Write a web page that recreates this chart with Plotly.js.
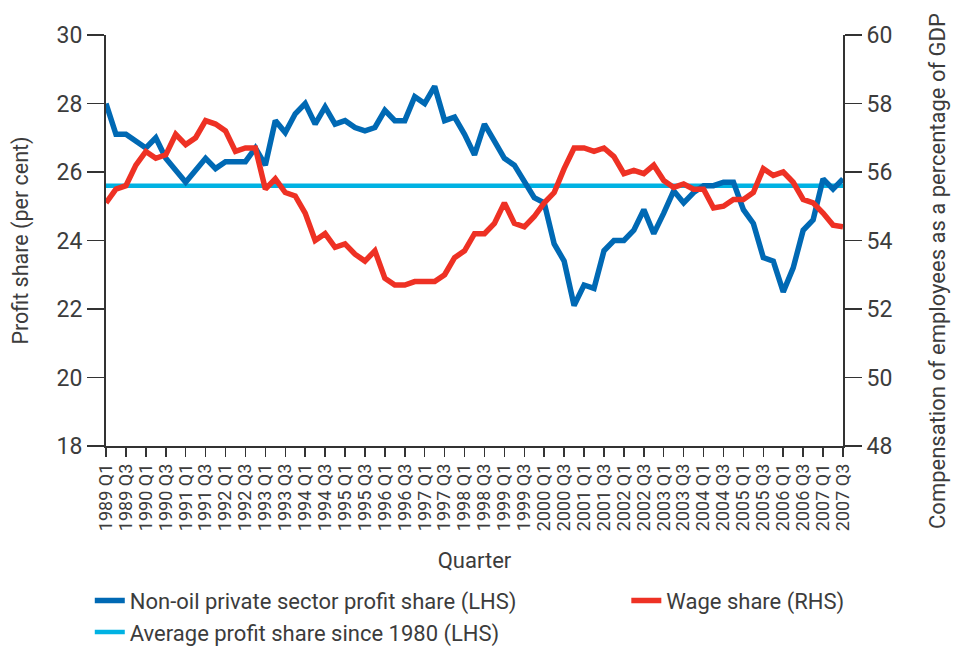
<!DOCTYPE html>
<html>
<head>
<meta charset="utf-8">
<script src="https://cdn.plot.ly/plotly-3.0.1.min.js"></script>
<style>html,body{margin:0;padding:0;background:#fff;}#chart{width:962px;height:651px;}</style>
</head>
<body>
<div id="chart"></div>
<script>
var quarters = [
"1989 Q1","1989 Q2","1989 Q3","1989 Q4","1990 Q1","1990 Q2","1990 Q3","1990 Q4",
"1991 Q1","1991 Q2","1991 Q3","1991 Q4","1992 Q1","1992 Q2","1992 Q3","1992 Q4",
"1993 Q1","1993 Q2","1993 Q3","1993 Q4","1994 Q1","1994 Q2","1994 Q3","1994 Q4",
"1995 Q1","1995 Q2","1995 Q3","1995 Q4","1996 Q1","1996 Q2","1996 Q3","1996 Q4",
"1997 Q1","1997 Q2","1997 Q3","1997 Q4","1998 Q1","1998 Q2","1998 Q3","1998 Q4",
"1999 Q1","1999 Q2","1999 Q3","1999 Q4","2000 Q1","2000 Q2","2000 Q3","2000 Q4",
"2001 Q1","2001 Q2","2001 Q3","2001 Q4","2002 Q1","2002 Q2","2002 Q3","2002 Q4",
"2003 Q1","2003 Q2","2003 Q3","2003 Q4","2004 Q1","2004 Q2","2004 Q3","2004 Q4",
"2005 Q1","2005 Q2","2005 Q3","2005 Q4","2006 Q1","2006 Q2","2006 Q3","2006 Q4",
"2007 Q1","2007 Q2","2007 Q3"
];

var profitShare = [
28.0,27.1,27.1,26.9,26.7,27.0,26.4,26.05,
25.7,26.05,26.4,26.1,26.3,26.3,26.3,26.7,
26.2,27.5,27.15,27.7,28.0,27.4,27.9,27.4,
27.5,27.3,27.2,27.3,27.8,27.5,27.5,28.2,
28.0,28.5,27.5,27.6,27.1,26.5,27.4,26.9,
26.4,26.2,25.75,25.25,25.1,23.9,23.4,22.1,
22.7,22.6,23.7,24.0,24.0,24.3,24.9,24.2,
24.8,25.45,25.1,25.4,25.6,25.6,25.7,25.7,
24.9,24.5,23.5,23.4,22.5,23.2,24.3,24.6,
25.8,25.5,25.8
];

var wageShare = [
55.1,55.5,55.6,56.2,56.6,56.4,56.5,57.1,
56.8,57.0,57.5,57.4,57.2,56.6,56.7,56.7,
55.5,55.8,55.4,55.3,54.8,54.0,54.2,53.8,
53.9,53.6,53.4,53.7,52.9,52.7,52.7,52.8,
52.8,52.8,53.0,53.5,53.7,54.2,54.2,54.5,
55.1,54.5,54.4,54.7,55.1,55.4,56.1,56.7,
56.7,56.6,56.7,56.45,55.95,56.05,55.95,56.2,
55.75,55.55,55.65,55.5,55.5,54.95,55.0,55.2,
55.2,55.4,56.1,55.9,56.0,55.7,55.2,55.1,
54.8,54.45,54.4
];

var averageProfitShare = 25.6;

var tickLabels = quarters.filter(function(q){ return /Q1|Q3/.test(q); });
var avgSeries = quarters.map(function(){ return averageProfitShare; });

var FONT = 'Roboto, "Liberation Sans", Arial, sans-serif';
var TXT = '#3c3c3c';

var traces = [
  {x: quarters, y: avgSeries, type: 'scatter', mode: 'lines', name: 'Average profit share since 1980 (LHS)',
   line: {color: '#00b2e3', width: 4.5}, legendrank: 3, legend: 'legend', yaxis: 'y'},
  {x: quarters, y: profitShare, type: 'scatter', mode: 'lines', name: 'Non-oil private sector profit share (LHS)',
   line: {color: '#0069b4', width: 5.5}, legendrank: 1, legend: 'legend', yaxis: 'y'},
  {x: quarters, y: wageShare, type: 'scatter', mode: 'lines', name: 'Wage share (RHS)',
   line: {color: '#ee3124', width: 5.5}, legendrank: 2, legend: 'legend2', yaxis: 'y2'}
];

var legendFont = {family: FONT, size: 22, color: TXT};

var layout = {
  width: 962, height: 651,
  margin: {l: 106, r: 119, t: 35, b: 205, autoexpand: false},
  paper_bgcolor: '#fff', plot_bgcolor: '#fff',
  font: {family: FONT, color: TXT, size: 18},
  showlegend: true,
  legend: {orientation: 'v', x: -0.022, xanchor: 'left', y: -0.325, yanchor: 'top',
    font: legendFont, tracegroupgap: 0, bgcolor: 'rgba(0,0,0,0)'},
  legend2: {orientation: 'v', x: 0.706, xanchor: 'left', y: -0.325, yanchor: 'top',
    font: legendFont, bgcolor: 'rgba(0,0,0,0)'},
  xaxis: {
    type: 'category', range: [0, quarters.length - 1], automargin: false,
    tickmode: 'array', tickvals: tickLabels, ticktext: tickLabels,
    tickangle: -90, tickfont: {family: FONT, size: 18, color: TXT},
    ticks: 'outside', ticklen: 9, tickwidth: 1.5, tickcolor: '#333',
    showline: true, linecolor: '#333', linewidth: 1.5, showgrid: false, zeroline: false,
    title: {text: 'Quarter', font: {family: FONT, size: 22, color: TXT}, standoff: 22}
  },
  yaxis: {
    range: [18, 30], dtick: 2, tick0: 18, automargin: false,
    ticks: 'outside', ticklen: 17, tickwidth: 1.5, tickcolor: '#333',
    showline: true, linecolor: '#333', linewidth: 2, showgrid: false, zeroline: false,
    tickfont: {family: FONT, size: 23, color: TXT},
    title: {text: 'Profit share (per cent)', font: {family: FONT, size: 21.5, color: TXT}, standoff: 22}
  },
  yaxis2: {
    range: [48, 60], dtick: 2, tick0: 48, overlaying: 'y', side: 'right', automargin: false,
    ticks: 'outside', ticklen: 17, tickwidth: 1.5, tickcolor: '#333',
    showline: true, linecolor: '#333', linewidth: 2, showgrid: false, zeroline: false,
    tickfont: {family: FONT, size: 23, color: TXT}
  },
  annotations: [
    {text: 'Compensation of employees as a percentage of GDP', xref: 'paper', yref: 'paper',
     x: 1.129, y: 0.426, xanchor: 'center', yanchor: 'middle', textangle: -90, showarrow: false,
     font: {family: FONT, size: 22, color: TXT}}
  ]
};

Plotly.newPlot('chart', traces, layout, {displayModeBar: false, staticPlot: true});
</script>
</body>
</html>
